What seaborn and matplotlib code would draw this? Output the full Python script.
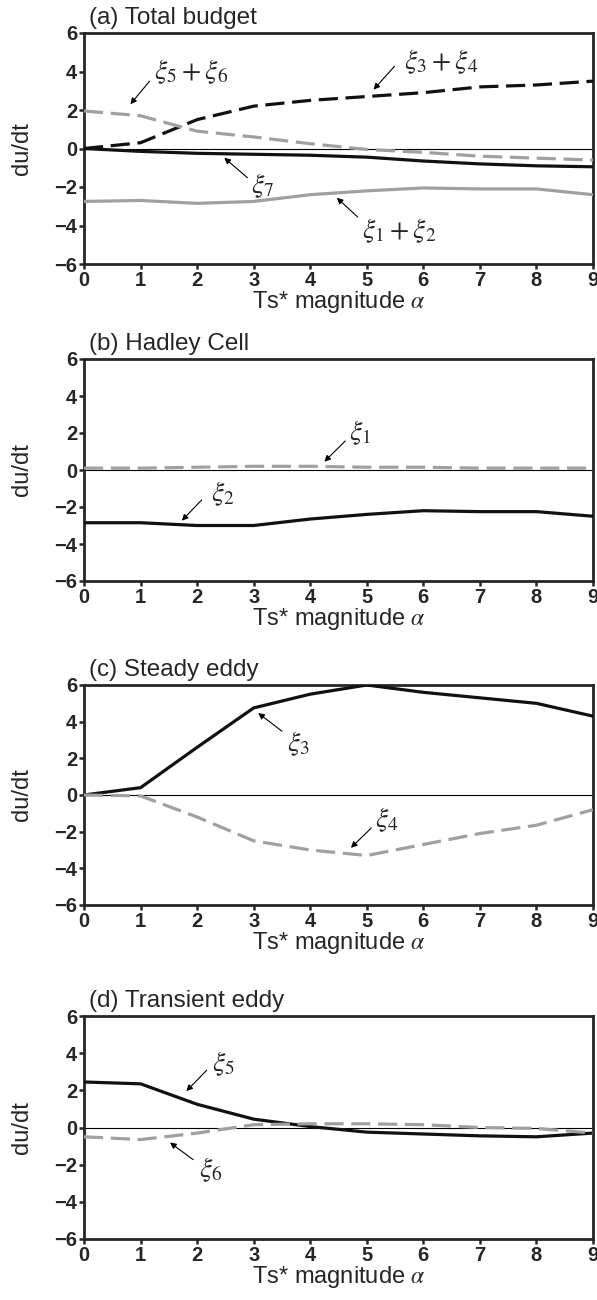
import numpy as np
import pandas as pd
import matplotlib
matplotlib.use("Agg")
import matplotlib.pyplot as plt
import seaborn as sns

# ---------------- data ----------------
alpha = [0, 1, 2, 3, 4, 5, 6, 7, 8, 9]

# (a) Total budget
xi34 = [0.0, 0.3, 1.5, 2.2, 2.5, 2.7, 2.9, 3.2, 3.3, 3.5]
xi56 = [1.95, 1.7, 0.9, 0.6, 0.25, -0.05, -0.2, -0.4, -0.5, -0.6]
xi7 = [0.0, -0.15, -0.25, -0.3, -0.35, -0.45, -0.65, -0.8, -0.9, -0.95]
xi12 = [-2.75, -2.7, -2.85, -2.75, -2.4, -2.2, -2.05, -2.1, -2.1, -2.4]

# (b) Hadley cell
xi1 = [0.1, 0.1, 0.15, 0.2, 0.2, 0.15, 0.15, 0.1, 0.1, 0.1]
xi2 = [-2.85, -2.85, -3.0, -3.0, -2.65, -2.4, -2.2, -2.25, -2.25, -2.5]

# (c) Steady eddy
xi3 = [0.0, 0.4, 2.6, 4.75, 5.5, 6.0, 5.6, 5.3, 5.0, 4.3]
xi4 = [0.0, -0.05, -1.2, -2.5, -3.0, -3.3, -2.7, -2.1, -1.65, -0.8]

# (d) Transient eddy
xi5 = [2.45, 2.35, 1.25, 0.45, 0.05, -0.25, -0.35, -0.45, -0.5, -0.3]
xi6 = [-0.5, -0.65, -0.3, 0.15, 0.2, 0.2, 0.15, 0.0, -0.05, -0.3]

titles = ["(a) Total budget", "(b) Hadley Cell", "(c) Steady eddy", "(d) Transient eddy"]
xticks = [0, 1, 2, 3, 4, 5, 6, 7, 8, 9]
yticks = [-6, -4, -2, 0, 2, 4, 6]

BLACK = "#111111"
GRAY = "#a0a0a0"
DASH = (0, (6, 2.4))

panels = [
    [(xi34, BLACK, DASH), (xi56, GRAY, DASH), (xi7, BLACK, "-"), (xi12, GRAY, "-")],
    [(xi1, GRAY, DASH), (xi2, BLACK, "-")],
    [(xi3, BLACK, "-"), (xi4, GRAY, DASH)],
    [(xi5, BLACK, "-"), (xi6, GRAY, DASH)],
]

# annotations: (label, text_left_x, text_y, arrow_tail, arrow_tip)
annots = [
    [(r"$\xi_5+\xi_6$", 1.23, 4.0, (1.16, 3.5), (0.82, 2.3)),
     (r"$\xi_3+\xi_4$", 5.66, 4.5, (5.49, 4.27), (5.12, 3.06)),
     (r"$\xi_7$", 2.95, -1.95, (2.89, -1.52), (2.48, -0.48)),
     (r"$\xi_1+\xi_2$", 4.91, -4.28, (4.84, -3.56), (4.47, -2.56))],
    [(r"$\xi_1$", 4.69, 2.0, (4.62, 1.57), (4.25, 0.45)),
     (r"$\xi_2$", 2.25, -1.27, (2.08, -1.62), (1.73, -2.74))],
    [(r"$\xi_3$", 3.59, 2.79, (3.5, 3.48), (3.08, 4.47)),
     (r"$\xi_4$", 5.14, -1.37, (5.08, -1.8), (4.72, -2.88))],
    [(r"$\xi_5$", 2.27, 3.43, (2.17, 3.08), (1.81, 1.96)),
     (r"$\xi_6$", 2.03, -2.29, (1.93, -1.73), (1.52, -0.81))],
]

# ---------------- style ----------------
sns.set_style("ticks")
plt.rcParams["font.family"] = ["Liberation Sans", "DejaVu Sans"]
plt.rcParams["mathtext.fontset"] = "stix"
plt.rcParams["axes.linewidth"] = 2.0
plt.rcParams["xtick.major.width"] = 1.8
plt.rcParams["ytick.major.width"] = 1.8
plt.rcParams["xtick.major.size"] = 3.5
plt.rcParams["ytick.major.size"] = 3.5

fig = plt.figure(figsize=(5.97, 13.0), dpi=100)

left = 84 / 597
width = (593 - 84) / 597
tops = [33, 359, 685, 1016]
bottoms = [264, 581, 905, 1239]

for i in range(4):
    b = 1 - bottoms[i] / 1300
    h = (bottoms[i] - tops[i]) / 1300
    ax = fig.add_axes([left, b, width, h])
    ax.axhline(0, color="black", lw=0.8, zorder=1)
    for vals, col, ls in panels[i]:
        df = pd.DataFrame({"alpha": alpha, "v": vals})
        sns.lineplot(data=df, x="alpha", y="v", ax=ax, color=col,
                     linestyle=ls, linewidth=2.3, zorder=3)
    ax.set_xlim(0, 9)
    ax.set_ylim(-6, 6)
    ax.set_xticks(xticks)
    ax.set_yticks(yticks)
    ax.tick_params(pad=1.5)
    for lab in ax.get_xticklabels() + ax.get_yticklabels():
        lab.set_fontweight("bold")
        lab.set_fontsize(14.5)
    ax.set_ylabel("du/dt", fontsize=17)
    ax.yaxis.set_label_coords(-0.1, 0.5)
    ax.set_xlabel(r"Ts* magnitude $\alpha$", fontsize=17, labelpad=-1)
    ax.annotate(titles[i], xy=(0, 1), xycoords="axes fraction",
                xytext=(3.5, 6.5), textcoords="offset points",
                fontsize=17.5, va="baseline", ha="left")
    for lab, tx, ty, tail, tip in annots[i]:
        ax.text(tx, ty, lab, fontsize=20, ha="left", va="center", zorder=5)
        ax.annotate("", xy=tip, xytext=tail,
                    arrowprops=dict(arrowstyle="-|>", color="black", lw=0.8,
                                    mutation_scale=9, shrinkA=0, shrinkB=0))

fig.savefig("out.png", dpi=100)
